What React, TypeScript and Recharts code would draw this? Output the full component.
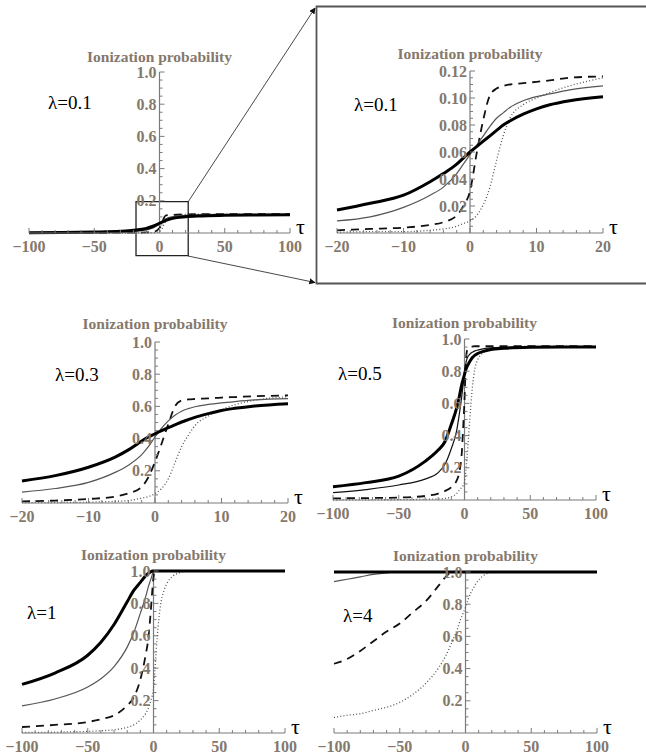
import React from 'react';
import { LineChart, Line, XAxis, YAxis, ReferenceLine, ReferenceArea } from 'recharts';

const AXIS = '#7b7b7b';
const LABEL = '#85786c';
const FONT = '"Liberation Serif", "Times New Roman", serif';

// ---- tick labels ----
const xTicksWide = [-100, -90, -80, -70, -60, -50, -40, -30, -20, -10, 0, 10, 20, 30, 40, 50, 60, 70, 80, 90, 100];
const xMajorWide = [-100, -50, 0, 50, 100];
const xTicksNarrow = [-20, -18, -16, -14, -12, -10, -8, -6, -4, -2, 0, 2, 4, 6, 8, 10, 12, 14, 16, 18, 20];
const xMajorNarrow = [-20, -10, 0, 10, 20];
const yTicksUnit = [0.05, 0.1, 0.15, 0.2, 0.25, 0.3, 0.35, 0.4, 0.45, 0.5, 0.55, 0.6, 0.65, 0.7, 0.75, 0.8, 0.85, 0.9, 0.95, 1.0];
const yMajorUnit = [0.2, 0.4, 0.6, 0.8, 1.0];
const yTicksZoom = [0.005, 0.01, 0.015, 0.02, 0.025, 0.03, 0.035, 0.04, 0.045, 0.05, 0.055, 0.06, 0.065, 0.07, 0.075, 0.08, 0.085, 0.09, 0.095, 0.1, 0.105, 0.11, 0.115, 0.12];
const yMajorZoom = [0.02, 0.04, 0.06, 0.08, 0.1, 0.12];

// ---- panel 1: λ=0.1, full range ----
const p1Tau = [-100, -75, -50, -30, -20, -10, -5, 0, 5, 10, 20, 30, 50, 75, 100];
const p1Thick = [0.002, 0.003, 0.006, 0.011, 0.017, 0.029, 0.042, 0.060, 0.079, 0.091, 0.101, 0.106, 0.110, 0.112, 0.113];
const p1Thin = [0.001, 0.001, 0.002, 0.005, 0.009, 0.019, 0.031, 0.058, 0.089, 0.101, 0.109, 0.112, 0.114, 0.115, 0.115];
const p1Dashed = [0.0, 0.001, 0.001, 0.002, 0.002, 0.004, 0.006, 0.031, 0.110, 0.112, 0.116, 0.117, 0.117, 0.117, 0.117];
const p1Dotted = [0.0, 0.0, 0.0, 0.0, 0.0005, 0.001, 0.002, 0.009, 0.072, 0.099, 0.115, 0.117, 0.117, 0.117, 0.117];

// ---- panel 2: λ=0.1, zoom ----
const p2Tau = [-20, -15, -10, -6, -4, -2, -1, 0, 1, 2, 3, 4, 5, 6, 8, 10, 12, 15, 20];
const p2Thick = [0.017, 0.022, 0.028, 0.038, 0.044, 0.051, 0.0555, 0.060, 0.064, 0.068, 0.072, 0.076, 0.080, 0.083, 0.088, 0.092, 0.095, 0.098, 0.101];
const p2Thin = [0.009, 0.012, 0.019, 0.028, 0.034, 0.044, 0.051, 0.058, 0.065, 0.072, 0.079, 0.085, 0.089, 0.093, 0.098, 0.101, 0.103, 0.106, 0.109];
const p2Dashed = [0.002, 0.003, 0.004, 0.006, 0.008, 0.013, 0.020, 0.031, 0.059, 0.084, 0.102, 0.107, 0.109, 0.110, 0.111, 0.112, 0.113, 0.115, 0.116];
const p2Dotted = [0.0005, 0.001, 0.001, 0.002, 0.003, 0.005, 0.007, 0.009, 0.013, 0.021, 0.034, 0.054, 0.072, 0.085, 0.095, 0.100, 0.104, 0.109, 0.115];

// ---- panel 3: λ=0.3 ----
const p3Tau = [-20, -15, -10, -6, -4, -2, -1, 0, 1, 2, 3, 4, 5, 6, 8, 10, 12, 15, 20];
const p3Thick = [0.137, 0.17, 0.222, 0.285, 0.33, 0.385, 0.41, 0.43, 0.45, 0.468, 0.485, 0.503, 0.518, 0.532, 0.555, 0.575, 0.588, 0.603, 0.617];
const p3Thin = [0.068, 0.09, 0.128, 0.19, 0.235, 0.3, 0.35, 0.41, 0.465, 0.51, 0.545, 0.57, 0.586, 0.598, 0.612, 0.622, 0.63, 0.64, 0.648];
const p3Dashed = [0.01, 0.015, 0.025, 0.04, 0.06, 0.1, 0.16, 0.255, 0.37, 0.49, 0.6, 0.637, 0.643, 0.646, 0.65, 0.655, 0.658, 0.663, 0.668];
const p3Dotted = [0.002, 0.003, 0.005, 0.01, 0.015, 0.03, 0.04, 0.058, 0.09, 0.15, 0.25, 0.35, 0.42, 0.48, 0.54, 0.58, 0.61, 0.638, 0.66];

// ---- panel 4: λ=0.5 ----
const p4Tau = [-100, -75, -50, -30, -20, -15, -10, -6, -4, -2, -1, 0, 1, 2, 4, 6, 8, 10, 15, 20, 30, 50, 75, 100];
const p4Thick = [0.083, 0.108, 0.148, 0.24, 0.31, 0.36, 0.47, 0.57, 0.64, 0.72, 0.75, 0.78, 0.81, 0.83, 0.86, 0.885, 0.9, 0.91, 0.925, 0.935, 0.942, 0.948, 0.95, 0.95];
const p4Thin = [0.046, 0.065, 0.093, 0.13, 0.17, 0.22, 0.32, 0.43, 0.53, 0.65, 0.72, 0.8, 0.85, 0.88, 0.905, 0.918, 0.926, 0.931, 0.94, 0.945, 0.948, 0.95, 0.95, 0.95];
const p4Dashed = [0.01, 0.012, 0.015, 0.025, 0.04, 0.055, 0.08, 0.12, 0.17, 0.3, 0.45, 0.62, 0.85, 0.93, 0.95, 0.953, 0.955, 0.955, 0.955, 0.955, 0.955, 0.955, 0.955, 0.955];
const p4Dotted = [0.0, 0.001, 0.002, 0.004, 0.007, 0.01, 0.02, 0.04, 0.06, 0.08, 0.09, 0.11, 0.18, 0.27, 0.5, 0.7, 0.82, 0.87, 0.92, 0.94, 0.95, 0.955, 0.955, 0.955];

// ---- panel 5: λ=1 ----
const p5Tau = [-100, -75, -50, -40, -30, -20, -15, -10, -6, -4, -2, -1, 0, 1, 2, 4, 6, 8, 10, 15, 20, 25, 30, 50, 75, 100];
const p5Thick = [0.30, 0.37, 0.48, 0.56, 0.67, 0.81, 0.88, 0.93, 0.97, 0.985, 0.995, 1, 1, 1, 1, 1, 1, 1, 1, 1, 1, 1, 1, 1, 1, 1];
const p5Thin = [0.167, 0.21, 0.284, 0.335, 0.41, 0.53, 0.62, 0.74, 0.84, 0.9, 0.95, 0.975, 1, 1, 1, 1, 1, 1, 1, 1, 1, 1, 1, 1, 1, 1];
const p5Dashed = [0.037, 0.05, 0.068, 0.085, 0.109, 0.17, 0.22, 0.33, 0.48, 0.58, 0.76, 0.87, 0.96, 1, 1, 1, 1, 1, 1, 1, 1, 1, 1, 1, 1, 1];
const p5Dotted = [0.003, 0.005, 0.01, 0.014, 0.02, 0.035, 0.05, 0.08, 0.12, 0.15, 0.2, 0.23, 0.27, 0.38, 0.5, 0.7, 0.82, 0.88, 0.92, 0.97, 0.99, 1, 1, 1, 1, 1];

// ---- panel 6: λ=4 ----
const p6Tau = [-100, -90, -80, -70, -60, -50, -40, -30, -20, -15, -10, -6, -4, -2, 0, 2, 4, 6, 8, 10, 15, 20, 25, 30, 50, 75, 100];
const p6Thick = [1, 1, 1, 1, 1, 1, 1, 1, 1, 1, 1, 1, 1, 1, 1, 1, 1, 1, 1, 1, 1, 1, 1, 1, 1, 1, 1];
const p6Thin = [0.94, 0.955, 0.97, 0.985, 0.995, 1, 1, 1, 1, 1, 1, 1, 1, 1, 1, 1, 1, 1, 1, 1, 1, 1, 1, 1, 1, 1, 1];
const p6Dashed = [0.43, 0.46, 0.51, 0.57, 0.63, 0.68, 0.75, 0.82, 0.92, 0.97, 1, 1, 1, 1, 1, 1, 1, 1, 1, 1, 1, 1, 1, 1, 1, 1, 1];
const p6Dotted = [0.096, 0.11, 0.12, 0.14, 0.16, 0.19, 0.24, 0.31, 0.41, 0.48, 0.57, 0.65, 0.7, 0.74, 0.78, 0.83, 0.87, 0.9, 0.93, 0.95, 0.985, 0.998, 1, 1, 1, 1, 1];

const isIn = (v: number, arr: number[]) => arr.some((m) => Math.abs(m - v) < 1e-9);
const fmtX = (v: number) => (v < 0 ? '\u2212' + Math.abs(v) : String(v));

type PanelProps = {
  plot: { left: number; top: number; right: number; bottom: number };
  xDomain: [number, number];
  yMax: number;
  xTicks: number[];
  xMajor: number[];
  yTicks: number[];
  yMajor: number[];
  yDigits: number;
  tau: number[];
  thick: number[];
  thin: number[];
  dashed: number[];
  dotted: number[];
  thinColor: string;
  titleOffset: number;
  lambda: string;
  lambdaPos: { left: number; cy: number };
  zoomBox?: { x1: number; x2: number; y1: number; y2: number };
};

function Panel(p: PanelProps) {
  const ML = 44, MR = 45, MT = 30, MB = 29;
  const YW = 1, XH = 1;
  const pw = p.plot.right - p.plot.left;
  const ph = p.plot.bottom - p.plot.top;
  const W = pw + ML + MR + YW;
  const H = ph + MT + MB + XH;
  const axisX = ML + YW + pw / 2;
  const axisY = MT + ph;
  const data = p.tau.map((t, i) => ({ tau: t, thick: p.thick[i], thin: p.thin[i], dashed: p.dashed[i], dotted: p.dotted[i] }));

  const XTick = (props: any) => {
    const v = props.payload.value;
    const major = isIn(v, p.xMajor);
    const x = props.x;
    return (
      <g>
        <line x1={x} x2={x} y1={axisY} y2={axisY - (major ? 5 : 3)} stroke={AXIS} strokeWidth={1} />
        {major && (
          <text x={x} y={axisY + 19} textAnchor="middle" fill={LABEL} fontFamily={FONT} fontWeight="bold" fontSize={16}>
            {fmtX(v)}
          </text>
        )}
      </g>
    );
  };
  const YTick = (props: any) => {
    const v = props.payload.value;
    const major = isIn(v, p.yMajor);
    const y = props.y;
    return (
      <g>
        <line x1={axisX} x2={axisX + (major ? 5 : 3)} y1={y} y2={y} stroke={AXIS} strokeWidth={1} />
        {major && (
          <text x={axisX - 3} y={y} dy="0.35em" textAnchor="end" fill={LABEL} fontFamily={FONT} fontWeight="bold" fontSize={16}>
            {v.toFixed(p.yDigits)}
          </text>
        )}
      </g>
    );
  };

  return (
    <>
      <div style={{ position: 'absolute', left: p.plot.left - ML - YW, top: p.plot.top - MT }}>
        <LineChart width={W} height={H} data={data} margin={{ top: MT, right: MR, bottom: MB, left: ML }}>
          <XAxis
            dataKey="tau"
            type="number"
            domain={p.xDomain}
            ticks={p.xTicks}
            interval={0}
            height={XH}
            axisLine={{ stroke: AXIS, strokeWidth: 1.2 }}
            tickLine={false}
            tickSize={0}
            tickMargin={0}
            tick={XTick}
            label={{ value: 'τ', position: 'right', offset: 6, dy: -7, fill: '#000', fontSize: 22, fontFamily: FONT }}
          />
          <YAxis
            type="number"
            domain={[0, p.yMax]}
            ticks={p.yTicks}
            interval={0}
            width={YW}
            axisLine={false}
            tickLine={false}
            tickSize={0}
            tickMargin={0}
            tick={YTick}
          />
          <ReferenceLine
            x={0}
            stroke={AXIS}
            strokeWidth={1.2}
            label={{ value: 'Ionization probability', position: 'top', offset: p.titleOffset, fill: LABEL, fontWeight: 'bold', fontSize: 15.5, fontFamily: FONT }}
          />
          {p.zoomBox && (
            <ReferenceArea
              x1={p.zoomBox.x1}
              x2={p.zoomBox.x2}
              y1={p.zoomBox.y1}
              y2={p.zoomBox.y2}
              ifOverflow="visible"
              fill="none"
              fillOpacity={0}
              stroke="#222"
              strokeWidth={1.3}
            />
          )}
          <Line type="monotone" dataKey="dotted" stroke="#555" strokeWidth={1.3} strokeDasharray="1 2.2" dot={false} isAnimationActive={false} />
          <Line type="monotone" dataKey="dashed" stroke="#111" strokeWidth={1.8} strokeDasharray="8 6" dot={false} isAnimationActive={false} />
          <Line type="monotone" dataKey="thin" stroke={p.thinColor} strokeWidth={1.2} dot={false} isAnimationActive={false} />
          <Line type="monotone" dataKey="thick" stroke="#000" strokeWidth={3} dot={false} isAnimationActive={false} />
        </LineChart>
      </div>
      <div
        style={{
          position: 'absolute',
          left: p.lambdaPos.left,
          top: p.lambdaPos.cy,
          transform: 'translateY(-50%)',
          fontFamily: FONT,
          fontSize: 19,
          lineHeight: 1,
          color: '#000',
          whiteSpace: 'nowrap',
        }}
      >
        {p.lambda}
      </div>
    </>
  );
}

export default function App() {
  return (
    <div style={{ position: 'absolute', left: 0, top: 0, width: 646, height: 756, background: '#fff', overflow: 'hidden' }}>
      <Panel
        plot={{ left: 29, top: 72, right: 290, bottom: 233 }}
        xDomain={[-100, 100]}
        yMax={1}
        xTicks={xTicksWide}
        xMajor={xMajorWide}
        yTicks={yTicksUnit}
        yMajor={yMajorUnit}
        yDigits={1}
        tau={p1Tau}
        thick={p1Thick}
        thin={p1Thin}
        dashed={p1Dashed}
        dotted={p1Dotted}
        thinColor="#444"
        titleOffset={10}
        lambda="λ=0.1"
        lambdaPos={{ left: 48, cy: 102 }}
        zoomBox={{ x1: -18, x2: 22, y1: -0.14, y2: 0.195 }}
      />
      <Panel
        plot={{ left: 337, top: 71, right: 603, bottom: 233 }}
        xDomain={[-20, 20]}
        yMax={0.12}
        xTicks={xTicksNarrow}
        xMajor={xMajorNarrow}
        yTicks={yTicksZoom}
        yMajor={yMajorZoom}
        yDigits={2}
        tau={p2Tau}
        thick={p2Thick}
        thin={p2Thin}
        dashed={p2Dashed}
        dotted={p2Dotted}
        thinColor="#555"
        titleOffset={12}
        lambda="λ=0.1"
        lambdaPos={{ left: 354, cy: 104 }}
      />
      <Panel
        plot={{ left: 22, top: 342, right: 288, bottom: 503 }}
        xDomain={[-20, 20]}
        yMax={1}
        xTicks={xTicksNarrow}
        xMajor={xMajorNarrow}
        yTicks={yTicksUnit}
        yMajor={yMajorUnit}
        yDigits={1}
        tau={p3Tau}
        thick={p3Thick}
        thin={p3Thin}
        dashed={p3Dashed}
        dotted={p3Dotted}
        thinColor="#555"
        titleOffset={13}
        lambda="λ=0.3"
        lambdaPos={{ left: 55, cy: 374 }}
      />
      <Panel
        plot={{ left: 333, top: 339, right: 596, bottom: 500 }}
        xDomain={[-100, 100]}
        yMax={1}
        xTicks={xTicksWide}
        xMajor={xMajorWide}
        yTicks={yTicksUnit}
        yMajor={yMajorUnit}
        yDigits={1}
        tau={p4Tau}
        thick={p4Thick}
        thin={p4Thin}
        dashed={p4Dashed}
        dotted={p4Dotted}
        thinColor="#111"
        titleOffset={11}
        lambda="λ=0.5"
        lambdaPos={{ left: 338, cy: 373 }}
      />
      <Panel
        plot={{ left: 22, top: 571, right: 285, bottom: 733 }}
        xDomain={[-100, 100]}
        yMax={1}
        xTicks={xTicksWide}
        xMajor={xMajorWide}
        yTicks={yTicksUnit}
        yMajor={yMajorUnit}
        yDigits={1}
        tau={p5Tau}
        thick={p5Thick}
        thin={p5Thin}
        dashed={p5Dashed}
        dotted={p5Dotted}
        thinColor="#555"
        titleOffset={11}
        lambda="λ=1"
        lambdaPos={{ left: 27, cy: 612 }}
      />
      <Panel
        plot={{ left: 334, top: 572, right: 597, bottom: 733 }}
        xDomain={[-100, 100]}
        yMax={1}
        xTicks={xTicksWide}
        xMajor={xMajorWide}
        yTicks={yTicksUnit}
        yMajor={yMajorUnit}
        yDigits={1}
        tau={p6Tau}
        thick={p6Thick}
        thin={p6Thin}
        dashed={p6Dashed}
        dotted={p6Dotted}
        thinColor="#555"
        titleOffset={11}
        lambda="λ=4"
        lambdaPos={{ left: 343, cy: 615 }}
      />
      <svg width={646} height={756} style={{ position: 'absolute', left: 0, top: 0, pointerEvents: 'none' }}>
        <defs>
          <marker id="arrow" viewBox="0 0 10 10" refX="9" refY="5" markerWidth="7" markerHeight="7" orient="auto-start-reverse">
            <path d="M0,0 L10,5 L0,10 z" fill="#111" />
          </marker>
        </defs>
        <path d="M660,6.5 H316.5 V283.5 H660" fill="none" stroke="#555" strokeWidth={1.8} />
        <line x1={188} y1={202} x2={315} y2={8} stroke="#333" strokeWidth={0.9} markerEnd="url(#arrow)" />
        <line x1={188} y1={256} x2={315} y2={282.5} stroke="#333" strokeWidth={0.9} markerEnd="url(#arrow)" />
      </svg>
    </div>
  );
}
